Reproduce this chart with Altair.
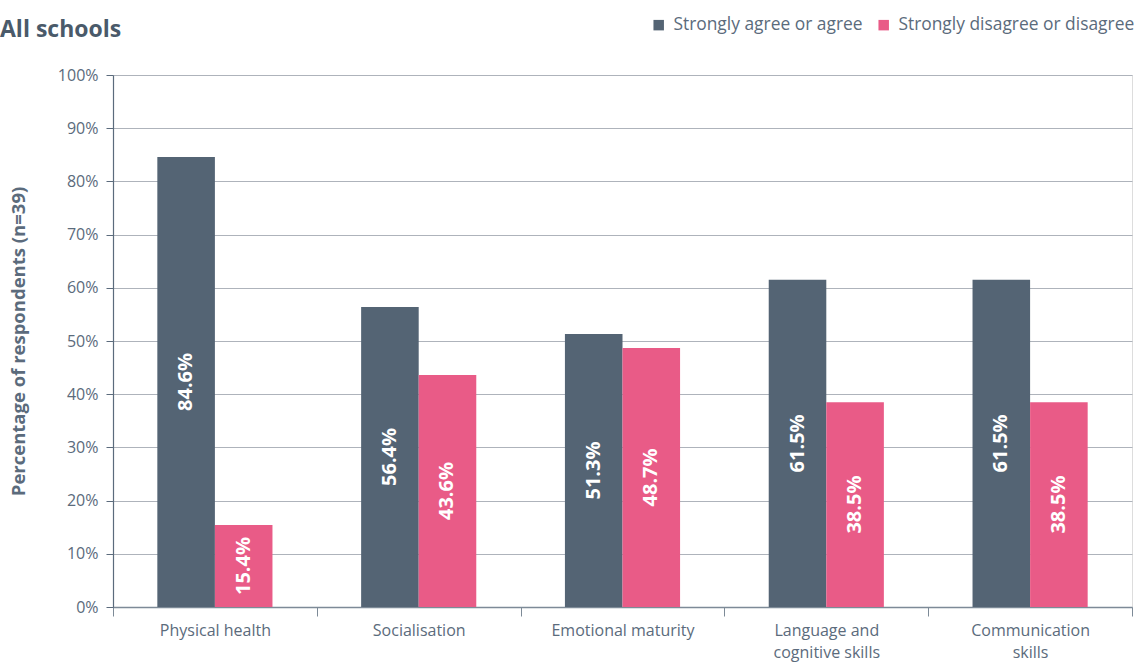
import altair as alt
import pandas as pd

categories = ["Physical health", "Socialisation", "Emotional maturity",
              "Language and|cognitive skills", "Communication|skills"]
series = ["Strongly agree or agree", "Strongly disagree or disagree"]
agree = [84.6, 56.4, 51.3, 61.5, 61.5]
disagree = [15.4, 43.6, 48.7, 38.5, 38.5]
colors = ["#546474", "#e95b87"]
y_ticks = [0, 10, 20, 30, 40, 50, 60, 70, 80, 90, 100]

rows = []
for c, a, d in zip(categories, agree, disagree):
    rows.append({"cat": c, "series": series[0], "value": a})
    rows.append({"cat": c, "series": series[1], "value": d})
df = pd.DataFrame(rows)

FONT = "Open Sans"
TXT = "#5b6b7c"

x_enc = alt.X("cat:N", sort=categories,
              scale=alt.Scale(paddingInner=0, paddingOuter=0),
              axis=alt.Axis(title=None, tickBand="extent", labelExpr="split(datum.label, '|')",
                            labelAngle=0, labelFontSize=16, labelColor=TXT, labelFont=FONT,
                            tickSize=9, tickColor="#7d8a97", domainColor="#7d8a97",
                            domainWidth=1.5, labelPadding=6, labelLineHeight=22))
xoff = alt.XOffset("series:N", sort=series,
                   scale=alt.Scale(paddingOuter=0.77, paddingInner=0))

base = alt.Chart(df)

bars = base.mark_bar().encode(
    x=x_enc,
    xOffset=xoff,
    y=alt.Y("value:Q", scale=alt.Scale(domain=[0, 100], nice=False),
            axis=alt.Axis(title="Percentage of respondents (n=39)", values=y_ticks,
                          labelExpr="datum.value + '%'", labelFontSize=16,
                          labelColor=TXT, labelFont=FONT, tickSize=7,
                          tickColor="#5b6b7c", domainColor="#5b6b7c", domainWidth=1.2,
                          labelPadding=8, grid=True, gridColor="#aeb3bb", gridWidth=1.2,
                          titleFont=FONT, titleFontSize=18.5, titleFontWeight="bold",
                          titleColor=TXT, titlePadding=29)),
    color=alt.Color("series:N", sort=series,
                    scale=alt.Scale(domain=series, range=colors),
                    legend=alt.Legend(title=None, orient="none", legendX=537, legendY=-59,
                                      direction="horizontal", symbolType="square",
                                      symbolSize=110, symbolStrokeWidth=0,
                                      labelFontSize=17.4, labelFont=FONT, labelColor=TXT,
                                      labelOffset=6, columnPadding=12, labelLimit=0)),
)

labels = base.transform_calculate(
    mid="datum.value / 2",
    lab="format(datum.value, '.1f') + '%'"
).mark_text(angle=270, color="white", fontWeight="bold", fontSize=20, font=FONT,
            align="center", baseline="middle").encode(
    x=alt.X("cat:N", sort=categories),
    xOffset=alt.XOffset("series:N", sort=series),
    y=alt.Y("mid:Q"),
    text="lab:N",
)

title = alt.Chart(pd.DataFrame({"t": ["All schools"]})).mark_text(
    align="left", baseline="alphabetic", fontSize=23, fontWeight="bold",
    font=FONT, color="#4a5a6a").encode(
    x=alt.value(-113), y=alt.value(-38), text="t:N")

chart = alt.layer(bars, labels, title).properties(
    width=1019, height=532,
    autosize=alt.AutoSizeParams(type="none"),
    padding={"left": 113, "top": 75, "right": 3, "bottom": 55},
).configure_view(stroke=None).configure(background="white")

chart.save("out.html", embed_options={"renderer": "svg", "actions": False})
